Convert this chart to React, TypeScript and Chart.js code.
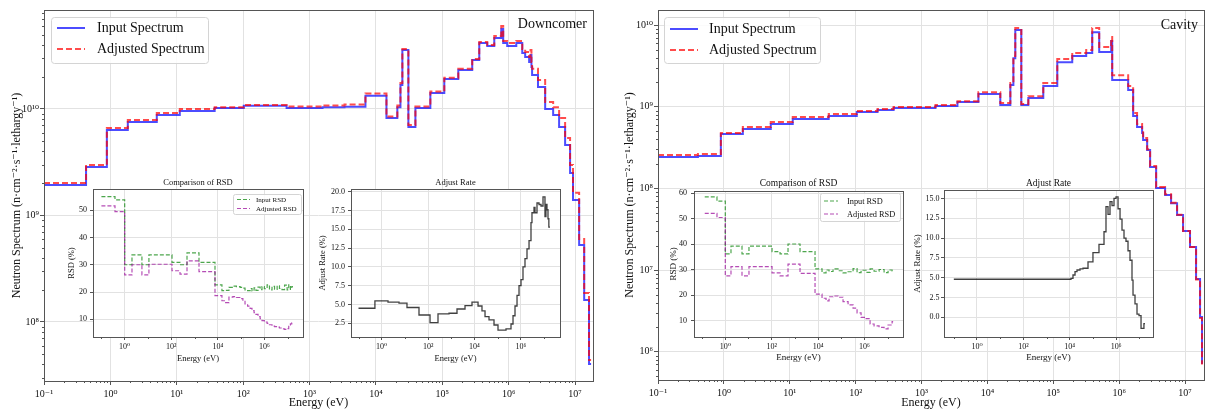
import React, { useEffect, useRef } from "react";
import { Chart, registerables } from "chart.js";

Chart.register(...registerables);

const FONT = "'Liberation Serif', 'Times New Roman', 'DejaVu Serif', serif";
Chart.defaults.font.family = FONT;

// ---------------- Main spectra (energy group edges in eV, flux per group) ----------------
const downcomerEdges = [0.1, 0.43, 0.885, 1.83, 5.0, 11.1, 37.2, 102, 451, 1570, 3360, 6950, 14400, 21000, 23400, 25000, 30800, 39300, 66000, 107000, 174000, 282000, 360000, 475000, 606000, 772000, 826000, 949000, 1.3e6, 1.6e6, 1.77e6, 2.03e6, 2.13e6, 2.2e6, 2.25e6, 2.76e6, 3.54e6, 4.67e6, 5.74e6, 7.07e6, 8.4e6, 9.3e6, 1.15e7, 1.37e7, 1.62e7, 1.74e7];
const downcomerInput = [1.93e9, 2.85e9, 6.35e9, 7.55e9, 8.79e9, 9.58e9, 1.02e10, 1.07e10, 1.02e10, 1.04e10, 1.05e10, 1.33e10, 8.23e9, 1.04e10, 1.68e10, 3.58e10, 6.78e9, 1.02e10, 1.41e10, 1.91e10, 2.32e10, 2.88e10, 4.17e10, 3.91e10, 4.65e10, 5.64e10, 4.17e10, 3.91e10, 4.17e10, 3.36e10, 3.08e10, 2.76e10, 3.21e10, 2.48e10, 2.08e10, 1.61e10, 1.0e10, 8.79e9, 6.78e9, 4.59e9, 2.51e9, 1.4e9, 5.28e8, 1.61e8, 4.04e7];
const downcomerAdjusted = [2.02e9, 2.98e9, 6.64e9, 7.89e9, 9.17e9, 1.0e10, 1.04e10, 1.09e10, 1.055e10, 1.08e10, 1.1e10, 1.4e10, 8.5e9, 1.08e10, 1.75e10, 3.66e10, 7.08e9, 1.055e10, 1.46e10, 1.96e10, 2.38e10, 2.95e10, 4.26e10, 3.99e10, 4.85e10, 6.01e10, 4.35e10, 4.17e10, 4.35e10, 3.66e10, 3.43e10, 3.08e10, 3.58e10, 2.76e10, 2.38e10, 1.87e10, 1.16e10, 1.04e10, 8.23e9, 5.34e9, 2.98e9, 1.63e9, 6.02e8, 1.87e8, 4.4e7];

const cavityEdges = [0.1, 0.404, 0.9, 1.94, 5.15, 11.1, 39, 104, 215, 377, 1630, 3510, 7300, 15700, 22300, 24800, 26500, 32700, 41800, 70500, 115000, 194000, 316000, 390000, 498000, 757000, 784000, 1.37e6, 1.63e6, 1.87e6, 2.23e6, 2.31e6, 2.66e6, 2.95e6, 3.64e6, 4.98e6, 6.14e6, 7.57e6, 9.33e6, 1.19e7, 1.47e7, 1.69e7, 1.81e7, 1.87e7];
const cavityInput = [2.42e8, 2.49e8, 4.63e8, 5.33e8, 6.14e8, 7.07e8, 7.69e8, 8.61e8, 9.11e8, 9.64e8, 1.02e9, 1.14e9, 1.43e9, 1.05e9, 1.85e9, 3.94e9, 8.69e9, 1.05e9, 1.28e9, 1.79e9, 3.52e9, 4.18e9, 4.54e9, 8.2e9, 4.67e9, 6.37e9, 2.12e9, 1.6e9, 7.69e8, 5.65e8, 4.77e8, 3.91e8, 2.95e8, 1.83e8, 1.01e8, 8.3e7, 6.6e7, 4.72e7, 3.01e7, 1.92e7, 7.8e6, 2.67e6, 7.3e5];
const cavityAdjusted = [2.56e8, 2.64e8, 4.77e8, 5.65e8, 6.5e8, 7.48e8, 8.14e8, 8.86e8, 9.38e8, 9.91e8, 1.05e9, 1.17e9, 1.51e9, 1.11e9, 1.95e9, 4.18e9, 9.19e9, 1.08e9, 1.35e9, 1.95e9, 3.84e9, 4.54e9, 4.94e9, 9.19e9, 5.38e9, 7.13e9, 2.44e9, 1.79e9, 8.37e8, 6.14e8, 5.04e8, 4.14e8, 3.03e8, 1.88e8, 1.04e8, 8.5e7, 6.7e7, 4.75e7, 3.02e7, 1.92e7, 7.7e6, 2.6e6, 7.2e5];

// ---------------- RSD insets (%) ----------------
const downcomerRsdEdges = [0.1, 0.383, 1.0, 2.06, 5.5, 11, 108, 238, 476, 1560, 7590, 15100, 20400, 30200, 44700, 63100, 91200, 120000, 148000, 191000, 245000, 295000, 363000, 437000, 537000, 661000, 794000, 1.0e6, 1.32e6, 1.66e6, 2.14e6, 2.75e6, 3.55e6, 4.47e6, 5.75e6, 7.41e6, 9.55e6, 1.12e7, 1.32e7, 1.51e7, 1.7e7];
const downcomerInputRsd = [55, 53.8, 30.0, 33.6, 30.0, 33.6, 30.9, 30.0, 34.4, 30.9, 22.6, 20.5, 20.6, 21.7, 22.2, 22.0, 21.7, 21.4, 20.8, 20.5, 21.3, 20.4, 21.5, 20.6, 21.8, 20.9, 22.0, 21.2, 22.6, 20.8, 22.1, 21.0, 22.3, 21.3, 20.9, 22.5, 20.8, 22.6, 21.0, 22.0];
const downcomerAdjustedRsd = [51.6, 49.5, 26.3, 30.0, 26.3, 30.2, 27.8, 26.6, 31.4, 27.5, 18.7, 16.8, 16.1, 18.1, 18.3, 18.0, 17.6, 16.6, 15.6, 14.8, 14.0, 13.2, 12.4, 11.8, 11.0, 10.2, 9.5, 9.0, 8.5, 8.0, 7.5, 7.3, 7.1, 6.8, 6.5, 6.3, 6.6, 7.9, 8.3, 8.7];

const cavityRsdEdges = [0.13, 0.438, 1.0, 1.76, 5.26, 10.5, 104, 230, 508, 1675, 7430, 14900, 22200, 29900, 44400, 73100, 120000, 198000, 325000, 483000, 719000, 1.18e6, 1.76e6, 2.62e6, 4.3e6, 7.08e6, 1.05e7, 1.57e7, 1.74e7];
const cavityInputRsd = [58.6, 56.9, 36.2, 39.3, 36.2, 39.3, 37.1, 36.2, 40.1, 37.1, 30.3, 28.8, 29.9, 29.3, 30.3, 29.6, 28.8, 29.2, 30.4, 28.9, 29.8, 29.0, 30.3, 29.4, 30.1, 28.9, 29.9, 29.5];
const cavityAdjustedRsd = [52.1, 50.5, 27.6, 31.2, 27.6, 31.2, 28.8, 27.6, 32.2, 28.6, 20.4, 18.8, 17.8, 19.4, 19.7, 19.2, 17.5, 16.2, 14.9, 13.1, 11.3, 10.8, 8.7, 8.0, 7.4, 6.8, 8.3, 9.6];

// ---------------- Adjust-rate insets (%) ----------------
const downcomerRateEdges = [0.1, 0.51, 1.87, 5.57, 12.3, 40.5, 121, 267, 796, 1760, 3900, 7800, 14200, 21000, 28400, 42200, 69300, 103000, 228000, 374000, 457000, 557000, 680000, 829000, 1.01e6, 1.23e6, 1.5e6, 1.83e6, 2.24e6, 2.72e6, 3.0e6, 3.67e6, 4.05e6, 4.94e6, 6.03e6, 7.35e6, 8.97e6, 1.09e7, 1.2e7, 1.33e7, 1.47e7, 1.6e7, 1.8e7];
const downcomerRate = [4.5, 5.47, 5.3, 5.17, 4.6, 3.6, 2.58, 3.74, 3.83, 4.4, 4.85, 5.3, 4.8, 4.14, 3.38, 2.94, 2.27, 1.6, 1.75, 2.4, 3.5, 4.8, 6.2, 7.5, 8.3, 10.0, 11.1, 12.4, 13.5, 15.9, 17.2, 17.9, 17.2, 18.5, 18.3, 18.1, 19.3, 16.7, 18.3, 17.6, 16.4, 15.3];

const cavityRateEdges = [0.1, 11400, 13900, 17000, 20700, 27900, 37600, 61800, 101000, 184000, 303000, 369000, 451000, 550000, 670000, 818000, 998000, 1.22e6, 1.49e6, 1.81e6, 2.21e6, 2.69e6, 3.29e6, 4.01e6, 4.89e6, 5.41e6, 6.59e6, 8.04e6, 9.82e6, 1.2e7, 1.6e7, 1.78e7];
const cavityRate = [4.8, 4.92, 5.34, 5.76, 5.97, 6.1, 6.19, 7.0, 8.16, 9.2, 10.8, 13.97, 13.0, 14.6, 14.1, 15.0, 15.2, 13.7, 12.4, 11.0, 10.0, 9.6, 8.4, 7.2, 4.7, 2.8, 1.7, 0.4, 0.2, -1.4, -0.8];

// ---------------- Ticks ----------------
const mainXTicks = [1e-1, 1e0, 1e1, 1e2, 1e3, 1e4, 1e5, 1e6, 1e7];
const mainXTickLabels = ["10⁻¹", "10⁰", "10¹", "10²", "10³", "10⁴", "10⁵", "10⁶", "10⁷"];
const downcomerYTicks = [1e8, 1e9, 1e10];
const downcomerYTickLabels = ["10⁸", "10⁹", "10¹⁰"];
const cavityYTicks = [1e6, 1e7, 1e8, 1e9, 1e10];
const cavityYTickLabels = ["10⁶", "10⁷", "10⁸", "10⁹", "10¹⁰"];
const insetXTicks = [1e0, 1e2, 1e4, 1e6];
const insetXTickLabels = ["10⁰", "10²", "10⁴", "10⁶"];
const downcomerRsdTicks = [10, 20, 30, 40, 50];
const downcomerRsdTickLabels = ["10", "20", "30", "40", "50"];
const cavityRsdTicks = [10, 20, 30, 40, 50, 60];
const cavityRsdTickLabels = ["10", "20", "30", "40", "50", "60"];
const downcomerRateTicks = [2.5, 5, 7.5, 10, 12.5, 15, 17.5, 20];
const downcomerRateTickLabels = ["2.5", "5.0", "7.5", "10.0", "12.5", "15.0", "17.5", "20.0"];
const cavityRateTicks = [0, 2.5, 5, 7.5, 10, 12.5, 15];
const cavityRateTickLabels = ["0.0", "2.5", "5.0", "7.5", "10.0", "12.5", "15.0"];

const Y_TITLE = "Neutron Spectrum (n·cm⁻²·s⁻¹·lethargy⁻¹)";

const BLUE = "rgba(0,0,255,0.7)";
const RED = "rgba(255,0,0,0.7)";
const GREEN = "rgba(0,128,0,0.7)";
const PURPLE = "rgba(150,0,150,0.7)";
const BLACK = "rgba(0,0,0,0.75)";
const SPINE = "#555";

type Box = { left: number; top: number; width: number; height: number };
type Area = { left: number; top: number; right: number; bottom: number };

function stepPoints(edges: number[], vals: number[]) {
  const pts = vals.map((v, i) => ({ x: edges[i], y: v }));
  pts.push({ x: edges[edges.length - 1], y: vals[vals.length - 1] });
  return pts;
}

function stepSeries(edges: number[], vals: number[], color: string, width: number, dash: number[], order: number) {
  return {
    data: stepPoints(edges, vals),
    borderColor: color,
    backgroundColor: color,
    borderWidth: width,
    borderDash: dash,
    stepped: "before",
    pointRadius: 0,
    pointHoverRadius: 0,
    fill: false,
    tension: 0,
    order,
  };
}

function axis(o: any) {
  const half = (o.titleFont * 1.2) / 2;
  const tpad = Math.max(0, o.titleOffset - half);
  return {
    type: o.type,
    position: o.dir === "x" ? "bottom" : "left",
    min: o.min,
    max: o.max,
    afterBuildTicks: (s: any) => {
      s.ticks = o.ticks.map((v: number) => ({ value: v }));
    },
    afterFit: (s: any) => {
      if (o.dir === "x") s.height = o.size;
      else s.width = o.size;
    },
    ticks: {
      autoSkip: false,
      maxRotation: 0,
      minRotation: 0,
      padding: o.tickPad,
      color: "#111",
      font: { size: o.tickFont, family: FONT },
      callback: (_v: any, i: number) => o.labels[i],
    },
    grid: { color: "#e2e2e2", lineWidth: 1, drawTicks: true, tickLength: o.tickLen, tickColor: SPINE, tickWidth: 1 },
    border: { display: false },
    title: {
      display: true,
      text: o.title,
      color: "#111",
      font: { size: o.titleFont, family: FONT },
      padding: o.dir === "x" ? { top: 0, bottom: tpad } : { top: tpad, bottom: 0 },
    },
  };
}

function buildConfig(box: Box, area: Area, xAxis: any, yAxis: any, datasets: any[], before: any, after: any) {
  return {
    type: "line",
    data: { datasets },
    options: {
      responsive: false,
      maintainAspectRatio: false,
      animation: false,
      events: [],
      layout: {
        padding: { left: 0, bottom: 0, top: area.top - box.top, right: box.left + box.width - area.right },
      },
      plugins: { legend: { display: false }, tooltip: { enabled: false }, title: { display: false } },
      scales: { x: xAxis, y: yAxis },
    },
    plugins: [
      {
        id: "panelExtras",
        beforeDraw: (c: any) => before && before(c),
        afterDraw: (c: any) => after && after(c),
      },
    ],
  };
}

function frame(ctx: CanvasRenderingContext2D, a: any) {
  ctx.save();
  ctx.strokeStyle = SPINE;
  ctx.lineWidth = 1;
  ctx.setLineDash([]);
  const l = Math.round(a.left) + 0.5;
  const t = Math.round(a.top) + 0.5;
  ctx.strokeRect(l, t, Math.round(a.right) - Math.round(a.left), Math.round(a.bottom) - Math.round(a.top));
  ctx.restore();
}

function logMinors(scale: any, subs: number[], step: number) {
  const out: number[] = [];
  const e0 = Math.floor(Math.log10(scale.min)) - 1;
  const e1 = Math.ceil(Math.log10(scale.max)) + 1;
  for (let e = e0; e <= e1; e += 1) {
    if (step === 2 && Math.abs(e % 2) !== 1) continue;
    for (const k of subs) {
      const v = k * Math.pow(10, e);
      if (v > scale.min && v < scale.max) out.push(v);
    }
  }
  return out;
}

function drawMinorTicks(c: any, xs: number[], ys: number[], len: number) {
  const ctx = c.ctx;
  const a = c.chartArea;
  ctx.save();
  ctx.strokeStyle = SPINE;
  ctx.lineWidth = 1;
  ctx.beginPath();
  xs.forEach((v) => {
    const p = Math.round(c.scales.x.getPixelForValue(v)) + 0.5;
    ctx.moveTo(p, a.bottom);
    ctx.lineTo(p, a.bottom + len);
  });
  ys.forEach((v) => {
    const p = Math.round(c.scales.y.getPixelForValue(v)) + 0.5;
    ctx.moveTo(a.left - len, p);
    ctx.lineTo(a.left, p);
  });
  ctx.stroke();
  ctx.restore();
}

function roundRect(ctx: CanvasRenderingContext2D, x: number, y: number, w: number, h: number, r: number) {
  ctx.beginPath();
  ctx.moveTo(x + r, y);
  ctx.lineTo(x + w - r, y);
  ctx.arcTo(x + w, y, x + w, y + r, r);
  ctx.lineTo(x + w, y + h - r);
  ctx.arcTo(x + w, y + h, x + w - r, y + h, r);
  ctx.lineTo(x + r, y + h);
  ctx.arcTo(x, y + h, x, y + h - r, r);
  ctx.lineTo(x, y + r);
  ctx.arcTo(x, y, x + r, y, r);
  ctx.closePath();
}

function drawLegend(ctx: CanvasRenderingContext2D, box: Box, spec: any) {
  const ox = box.left;
  const oy = box.top;
  ctx.save();
  roundRect(ctx, spec.x - ox + 0.5, spec.y - oy + 0.5, spec.w, spec.h, spec.r);
  ctx.fillStyle = "rgba(255,255,255,0.85)";
  ctx.fill();
  ctx.strokeStyle = "#d4d4d4";
  ctx.lineWidth = 1;
  ctx.stroke();
  spec.items.forEach((it: any) => {
    ctx.beginPath();
    ctx.setLineDash(it.dash);
    ctx.strokeStyle = it.color;
    ctx.lineWidth = it.width;
    ctx.moveTo(spec.lineX0 - ox, it.y - oy);
    ctx.lineTo(spec.lineX1 - ox, it.y - oy);
    ctx.stroke();
    ctx.setLineDash([]);
    ctx.fillStyle = "#111";
    ctx.font = `${spec.font}px ${FONT}`;
    ctx.textBaseline = "middle";
    ctx.textAlign = "left";
    ctx.fillText(it.label, spec.textX - ox, it.y - oy + 0.5);
  });
  ctx.restore();
}

function drawText(ctx: CanvasRenderingContext2D, box: Box, text: string, x: number, y: number, size: number, align: CanvasTextAlign) {
  ctx.save();
  ctx.fillStyle = "#111";
  ctx.font = `${size}px ${FONT}`;
  ctx.textAlign = align;
  ctx.textBaseline = "middle";
  ctx.fillText(text, x - box.left, y - box.top);
  ctx.restore();
}

function fillArea(c: any) {
  const a = c.chartArea;
  const ctx = c.ctx;
  ctx.save();
  ctx.fillStyle = "#ffffff";
  ctx.fillRect(a.left, a.top, a.right - a.left, a.bottom - a.top);
  ctx.restore();
}

// ---------------- Panel builders ----------------
function mainPanel(p: any) {
  const { box, area } = p;
  const xAxis = axis({
    dir: "x", type: "logarithmic", min: 0.1, max: p.xMax, ticks: mainXTicks, labels: mainXTickLabels,
    size: box.top + box.height - area.bottom, tickFont: 10, tickLen: 4, tickPad: 3,
    title: "Energy (eV)", titleFont: 12, titleOffset: 10,
  });
  const yAxis = axis({
    dir: "y", type: "logarithmic", min: p.yMin, max: p.yMax, ticks: p.yTicks, labels: p.yLabels,
    size: area.left - box.left, tickFont: 10, tickLen: 4, tickPad: 1,
    title: Y_TITLE, titleFont: 12, titleOffset: p.yTitleOffset,
  });
  const datasets = [
    stepSeries(p.edges, p.adjusted, RED, 2, [6, 3], 0),
    stepSeries(p.edges, p.input, BLUE, 2, [], 1),
  ];
  const after = (c: any) => {
    const subs = [2, 3, 4, 5, 6, 7, 8, 9];
    drawMinorTicks(c, logMinors(c.scales.x, subs, 1), logMinors(c.scales.y, subs, 1), 2);
    frame(c.ctx, c.chartArea);
    drawLegend(c.ctx, box, {
      ...p.legend,
      r: 3,
      font: 14,
      items: [
        { label: "Input Spectrum", color: BLUE, dash: [], width: 2, y: p.legend.rows[0] },
        { label: "Adjusted Spectrum", color: RED, dash: [6, 3], width: 2, y: p.legend.rows[1] },
      ],
    });
    drawText(c.ctx, box, p.label, p.labelX, p.labelY, 14, "right");
  };
  return () => buildConfig(box, area, xAxis, yAxis, datasets, null, after);
}

function insetPanel(p: any) {
  const { box, area } = p;
  const xAxis = axis({
    dir: "x", type: "logarithmic", min: p.xMin, max: p.xMax, ticks: insetXTicks, labels: insetXTickLabels,
    size: box.top + box.height - area.bottom, tickFont: 8, tickLen: 3, tickPad: 2.5,
    title: "Energy (eV)", titleFont: p.titleFont, titleOffset: p.xTitleOffset,
  });
  const yAxis = axis({
    dir: "y", type: "linear", min: p.yMin, max: p.yMax, ticks: p.yTicks, labels: p.yLabels,
    size: area.left - box.left, tickFont: 8, tickLen: 3, tickPad: p.yTickPad,
    title: p.yTitle, titleFont: p.titleFont, titleOffset: p.yTitleOffset,
  });
  const after = (c: any) => {
    drawMinorTicks(c, logMinors(c.scales.x, [1], 2), [], 2);
    frame(c.ctx, c.chartArea);
    const a = c.chartArea;
    drawText(c.ctx, { left: 0, top: 0, width: 0, height: 0 }, p.title, (a.left + a.right) / 2, p.titleY - box.top, p.headFont, "center");
    if (p.legend) drawLegend(c.ctx, box, p.legend);
  };
  return () => buildConfig(box, area, xAxis, yAxis, p.datasets, fillArea, after);
}

// ---------------- Layout ----------------
const leftMainBox = { left: 0, top: 0, width: 600, height: 413 };
const rightMainBox = { left: 600, top: 0, width: 605, height: 413 };

const charts = [
  {
    box: leftMainBox,
    config: mainPanel({
      box: leftMainBox, area: { left: 44, top: 10, right: 593, bottom: 381 },
      xMax: 1.86e7, yMin: 2.79e7, yMax: 8.5e10, yTicks: downcomerYTicks, yLabels: downcomerYTickLabels,
      yTitleOffset: 17, edges: downcomerEdges, input: downcomerInput, adjusted: downcomerAdjusted,
      legend: { x: 51, y: 17, w: 157, h: 46, lineX0: 57, lineX1: 85, textX: 97, rows: [28, 49] },
      label: "Downcomer", labelX: 587, labelY: 24,
    }),
  },
  {
    box: rightMainBox,
    config: mainPanel({
      box: rightMainBox, area: { left: 658, top: 10, right: 1204, bottom: 380 },
      xMax: 1.94e7, yMin: 4.52e5, yMax: 1.53e10, yTicks: cavityYTicks, yLabels: cavityYTickLabels,
      yTitleOffset: 30, edges: cavityEdges, input: cavityInput, adjusted: cavityAdjusted,
      legend: { x: 664, y: 17, w: 156, h: 46, lineX0: 670, lineX1: 698, textX: 709, rows: [29, 50] },
      label: "Cavity", labelX: 1198, labelY: 25,
    }),
  },
];

const lRsdBox = { left: 60, top: 170, width: 250, height: 200 };
const lRateBox = { left: 310, top: 170, width: 260, height: 200 };
const rRsdBox = { left: 655, top: 170, width: 255, height: 200 };
const rRateBox = { left: 910, top: 170, width: 255, height: 200 };

const insets = [
  {
    box: lRsdBox,
    config: insetPanel({
      box: lRsdBox, area: { left: 93, top: 189, right: 303, bottom: 337 },
      xMin: 0.0435, xMax: 4.59e7, yMin: 3.5, yMax: 57.8, yTicks: downcomerRsdTicks, yLabels: downcomerRsdTickLabels,
      yTitle: "RSD (%)", titleFont: 8.5, xTitleOffset: 11, yTitleOffset: 12, yTickPad: 3,
      title: "Comparison of RSD", titleY: 183, headFont: 8.5,
      datasets: [
        stepSeries(downcomerRsdEdges, downcomerInputRsd, GREEN, 1.2, [4, 2], 1),
        stepSeries(downcomerRsdEdges, downcomerAdjustedRsd, PURPLE, 1.2, [4, 2], 0),
      ],
      legend: {
        x: 233, y: 194, w: 68, h: 20, r: 2, lineX0: 237, lineX1: 250, textX: 256, font: 7,
        items: [
          { label: "Input RSD", color: GREEN, dash: [4, 2], width: 1.2, y: 199.5 },
          { label: "Adjusted RSD", color: PURPLE, dash: [4, 2], width: 1.2, y: 208.5 },
        ],
      },
    }),
  },
  {
    box: lRateBox,
    config: insetPanel({
      box: lRateBox, area: { left: 351, top: 189, right: 560, bottom: 337 },
      xMin: 0.0475, xMax: 4.84e7, yMin: 0.674, yMax: 20.36, yTicks: downcomerRateTicks, yLabels: downcomerRateTickLabels,
      yTitle: "Adjust Rate (%)", titleFont: 8.5, xTitleOffset: 11, yTitleOffset: 13, yTickPad: 3,
      title: "Adjust Rate", titleY: 183, headFont: 8.5,
      datasets: [stepSeries(downcomerRateEdges, downcomerRate, BLACK, 1.3, [], 0)],
    }),
  },
  {
    box: rRsdBox,
    config: insetPanel({
      box: rRsdBox, area: { left: 694, top: 191, right: 903, bottom: 337 },
      xMin: 0.0447, xMax: 4.63e7, yMin: 3.6, yMax: 60.9, yTicks: cavityRsdTicks, yLabels: cavityRsdTickLabels,
      yTitle: "RSD (%)", titleFont: 9, xTitleOffset: 12, yTitleOffset: 19, yTickPad: 4,
      title: "Comparison of RSD", titleY: 183, headFont: 9.5,
      datasets: [
        stepSeries(cavityRsdEdges, cavityInputRsd, GREEN, 1.2, [4, 2], 1),
        stepSeries(cavityRsdEdges, cavityAdjustedRsd, PURPLE, 1.2, [4, 2], 0),
      ],
      legend: {
        x: 820, y: 193, w: 80, h: 28, r: 2, lineX0: 824, lineX1: 838, textX: 847, font: 8.3,
        items: [
          { label: "Input RSD", color: GREEN, dash: [4, 2], width: 1.2, y: 201 },
          { label: "Adjusted RSD", color: PURPLE, dash: [4, 2], width: 1.2, y: 214 },
        ],
      },
    }),
  },
  {
    box: rRateBox,
    config: insetPanel({
      box: rRateBox, area: { left: 944, top: 190, right: 1153, bottom: 337 },
      xMin: 0.0377, xMax: 3.94e7, yMin: -2.49, yMax: 16.07, yTicks: cavityRateTicks, yLabels: cavityRateTickLabels,
      yTitle: "Adjust Rate (%)", titleFont: 9, xTitleOffset: 12, yTitleOffset: 8, yTickPad: 1.5,
      title: "Adjust Rate", titleY: 183, headFont: 9.5,
      datasets: [stepSeries(cavityRateEdges, cavityRate, BLACK, 1.3, [], 0)],
    }),
  },
];

function ChartCanvas({ box, config }: { box: Box; config: () => any }) {
  const ref = useRef<HTMLCanvasElement | null>(null);
  useEffect(() => {
    if (!ref.current) return;
    const chart = new Chart(ref.current, config() as any);
    return () => chart.destroy();
  }, []);
  return (
    <canvas
      ref={ref}
      width={box.width}
      height={box.height}
      style={{ position: "absolute", left: box.left, top: box.top, width: box.width, height: box.height }}
    />
  );
}

export default function App() {
  return (
    <div style={{ position: "absolute", left: 0, top: 0, width: 1205, height: 413, background: "#ffffff", overflow: "hidden" }}>
      {charts.map((c, i) => (
        <ChartCanvas key={"m" + i} box={c.box} config={c.config} />
      ))}
      {insets.map((c, i) => (
        <ChartCanvas key={"i" + i} box={c.box} config={c.config} />
      ))}
    </div>
  );
}
